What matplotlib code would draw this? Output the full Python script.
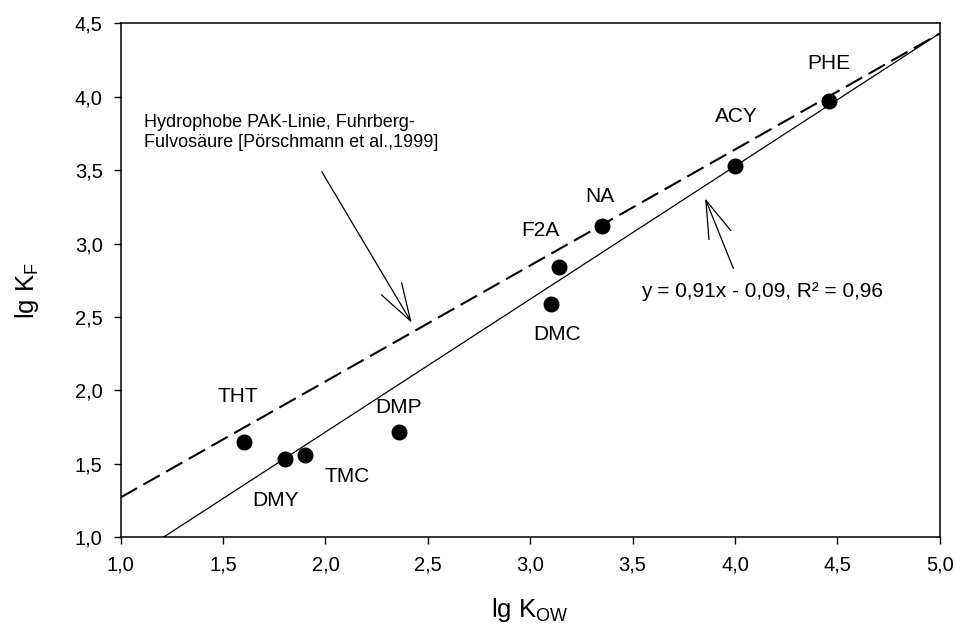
import matplotlib
matplotlib.use("Agg")
import matplotlib.pyplot as plt
import numpy as np

plt.rcParams["font.family"] = ["Liberation Sans", "DejaVu Sans"]
plt.rcParams["mathtext.default"] = "regular"

# Messwerte (lg Kow, lg KF)
stoffe = ["THT", "DMY", "TMC", "DMP", "DMC", "F2A", "NA", "ACY", "PHE"]
lg_kow = [1.60, 1.80, 1.90, 2.36, 3.10, 3.14, 3.35, 4.00, 4.46]
lg_kf = [1.65, 1.53, 1.56, 1.72, 2.59, 2.84, 3.12, 3.53, 3.97]

# Beschriftungspositionen der Stoffe
label_x = [1.574, 1.758, 2.104, 2.356, 3.129, 3.048, 3.338, 4.008, 4.456]
label_y = [1.962, 1.254, 1.417, 1.882, 2.382, 3.092, 3.323, 3.868, 4.227]

# Regressionsgerade (gezeichnet), Text: y = 0,91x - 0,09
steigung = 0.905
achsenabschnitt = -0.093

# hydrophobe PAK-Linie (Fuhrberg-Fulvosäure)
pak_x = [1.0, 5.0]
pak_y = [1.272, 4.43]

x_ticks = [1.0, 1.5, 2.0, 2.5, 3.0, 3.5, 4.0, 4.5, 5.0]
x_ticklabels = ["1,0", "1,5", "2,0", "2,5", "3,0", "3,5", "4,0", "4,5", "5,0"]
y_ticks = [1.0, 1.5, 2.0, 2.5, 3.0, 3.5, 4.0, 4.5]
y_ticklabels = ["1,0", "1,5", "2,0", "2,5", "3,0", "3,5", "4,0", "4,5"]

fig = plt.figure(figsize=(9.56, 6.28), dpi=100)
ax = fig.add_axes([0.1263, 0.1444, 0.8567, 0.8185])

# Regressionsgerade
xr = np.array([1.0, 5.0])
ax.plot(xr, steigung * xr + achsenabschnitt, color="black", lw=0.9, zorder=2)

# PAK-Linie gestrichelt
ax.plot(pak_x, pak_y, color="black", lw=1.5, dashes=(9, 3.5), zorder=2)

# Punkte
ax.plot(lg_kow, lg_kf, "o", color="black", markersize=10.5, zorder=3)

for s, lx, ly in zip(stoffe, label_x, label_y):
    ax.text(lx, ly, s, fontsize=15, ha="center", va="center")

# Pfeile mit Beschriftung
pfeil = dict(arrowstyle="->,head_length=2.7,head_width=0.85", color="black",
             lw=0.9, shrinkA=0, shrinkB=0, mutation_scale=10)
ax.annotate("", xy=(2.421, 2.461), xytext=(1.982, 3.489), arrowprops=pfeil)
ax.annotate("", xy=(3.854, 3.308), xytext=(3.992, 2.831), arrowprops=pfeil)

ax.text(1.114, 3.755, "Hydrophobe PAK-Linie, Fuhrberg-\nFulvosäure [Pörschmann et al.,1999]",
        fontsize=13, ha="left", va="center", linespacing=1.2)
ax.text(3.54, 2.672, "y = 0,91x - 0,09, R² = 0,96", fontsize=15, ha="left", va="center")

ax.set_xlim(1.0, 5.0)
ax.set_ylim(1.0, 4.5)
ax.set_xticks(x_ticks)
ax.set_xticklabels(x_ticklabels)
ax.set_yticks(y_ticks)
ax.set_yticklabels(y_ticklabels)
ax.tick_params(direction="out", length=5, width=1, labelsize=14.5, pad=8)

for sp in ax.spines.values():
    sp.set_linewidth(1.1)

ax.set_xlabel("lg K$_{OW}$", fontsize=18.5)
ax.set_ylabel("lg K$_{F}$", fontsize=18.5)
ax.xaxis.set_label_coords(0.5, -0.114)
ax.yaxis.set_label_coords(-0.097, 0.48)

fig.savefig("out.png", dpi=100)
